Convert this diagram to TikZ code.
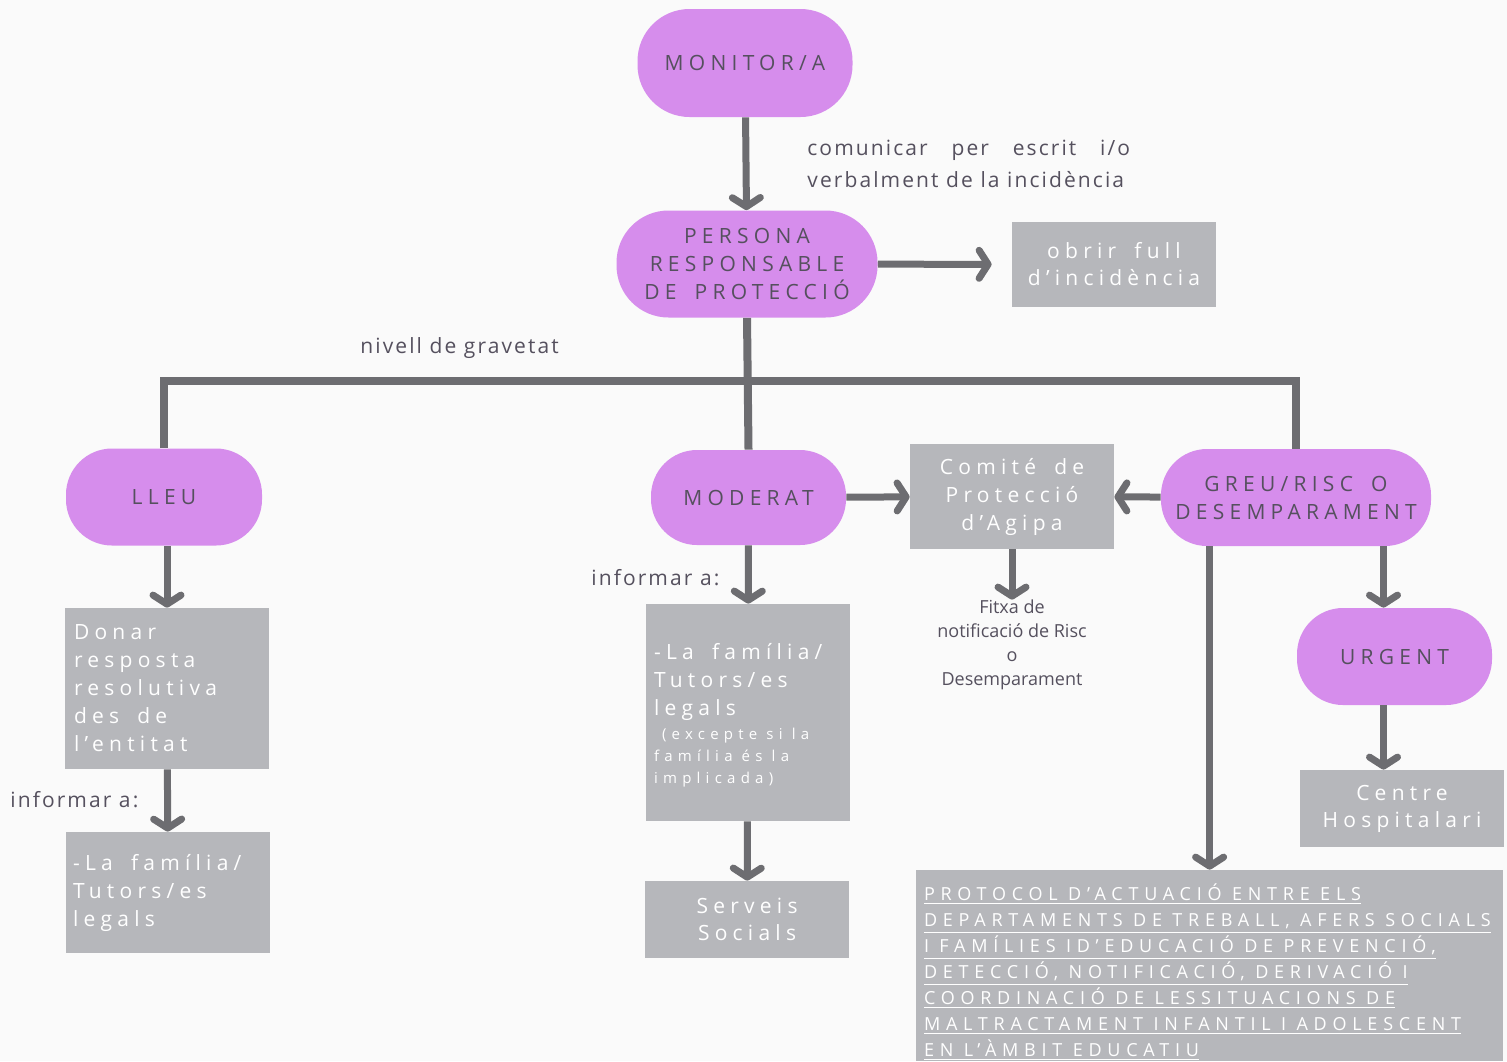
\documentclass[tikz,border=0pt]{standalone}
\usepackage{fontspec}
\setmainfont{Open Sans}
\newfontfamily\espaiat[LetterSpace=25,WordSpace=1.7]{Open Sans}
\newfontfamily\espaiatpetit[LetterSpace=35]{Open Sans}
\newfontfamily\espaiatprot[LetterSpace=32]{Open Sans}
\newfontfamily\espaiatnota[LetterSpace=10]{Open Sans}
\usetikzlibrary{arrows.meta}

\definecolor{lila}{HTML}{D68DEC}
\definecolor{caixagris}{HTML}{B6B7BB}
\definecolor{liniagris}{HTML}{6D6D71}
\definecolor{textfosc}{HTML}{55505E}
\definecolor{fons}{HTML}{FAFAFA}

\newsavebox{\liniabox}
\newcommand{\liniajusta}[2]{\global\setbox\liniabox\hbox{#2}\hbox to\dimexpr\wd\liniabox+3pt\relax{#1}\\\copy\liniabox}

\tikzset{
  pill/.style={fill=lila, text=textfosc, align=center, rounded corners=23pt,
    minimum width=98pt, minimum height=48.5pt,
    font=\espaiat\fontsize{10.5}{14}\selectfont},
  caixa/.style={fill=caixagris, text=white, align=center, minimum width=102pt,
    font=\espaiat\fontsize{10.5}{14}\selectfont},
  nota/.style={text=textfosc, inner sep=0pt, align=left,
    font=\espaiatnota\fontsize{10.5}{16}\selectfont},
  fletxa/.style={draw=liniagris, line width=3.5pt,
    -{Straight Barb[length=4.5pt,width=14pt,round]}},
  branca/.style={draw=liniagris, line width=4pt}
}

\begin{document}
\begin{tikzpicture}[x=0.5pt,y=-0.5pt]
  \useasboundingbox (0,0) rectangle (1507,1061);
  \fill[fons] (0,0) rectangle (1507,1061);

  % capcalera
  \node[pill, minimum width=107.5pt, minimum height=54pt, rounded corners=26pt] (monitor) at (745,63) {MONITOR/A};
  \node[pill, minimum width=130.5pt, minimum height=53.5pt, rounded corners=26pt] (persona) at (747,264) {PERSONA\\RESPONSABLE\\DE PROTECCIÓ};
  \node[caixa, minimum height=42.5pt, font=\espaiat\fontsize{10.5}{13.5}\selectfont] (obrir) at (1114,264.5) {obrir full\\d’incidència};
  \node[nota, anchor=west] (comunicar) at (807,164) {\liniajusta{comunicar\hfill per\hfill escrit\hfill i/o}{verbalment de la incidència}};
  \node[nota, anchor=west] (nivell) at (360,348) {nivell de gravetat};
  \coordinate (junta) at (748,381);

  % nivells
  \node[pill] (lleu) at (164,497) {LLEU};
  \node[pill, minimum width=97.5pt, minimum height=47.5pt] (moderat) at (748.5,497.5) {MODERAT};
  \node[caixa, minimum height=52.5pt] (comite) at (1012,496.5) {Comité de\\Protecció\\d’Agipa};
  \node[pill, minimum width=135pt] (greu) at (1296,497.5) {GREU/RISC O\\DESEMPARAMENT};
  \node[text=textfosc, inner sep=0pt, align=center, font=\fontsize{9}{12}\selectfont] (fitxa) at (1012,645) {Fitxa de\\notificació de Risc\\o\\Desemparament};

  % lleu
  \node[caixa, minimum height=80.5pt, text width=93pt, inner xsep=4.5pt, align=flush left] (donar) at (167,688.5) {Donar\\resposta\\resolutiva\\des de\\l’entitat};
  \node[nota, anchor=west] (informarA) at (10,800) {informar a:};
  \node[caixa, minimum height=60.5pt, text width=95pt, inner xsep=3.5pt, align=flush left] (familiaA) at (168,892.5) {-La família/\\Tutors/es\\legals};

  % moderat
  \node[nota, anchor=west] (informarB) at (591,578) {informar a:};
  \node[caixa, minimum height=108.5pt, text width=94pt, inner xsep=4pt, align=flush left] (familiaB) at (748,712.5) {-La família/\\Tutors/es\\legals\par
    \vspace{1pt}{\espaiatpetit\fontsize{7.5}{11}\selectfont\hspace{4pt}(excepte si la\\família és la\\implicada)\par}\vspace{-3pt}};
  \node[caixa, minimum height=38.5pt, font=\espaiat\fontsize{10.5}{13.5}\selectfont] (serveis) at (747,919.5) {Serveis\\Socials};

  % greu
  \node[pill, minimum width=97.5pt] (urgent) at (1394.5,656.5) {URGENT};
  \node[caixa, minimum height=38.5pt, font=\espaiat\fontsize{10.5}{13.5}\selectfont] (centre) at (1402,808.5) {Centre\\Hospitalari};
  \node[caixa, minimum height=95.5pt, text width=285.5pt, inner xsep=4pt, align=flush left,
    font=\espaiatprot\fontsize{9}{13}\selectfont] (protocol) at (1209.5,965.5)
    {\underline{PROTOCOL D’ACTUACIÓ ENTRE ELS}\\
     \underline{DEPARTAMENTS DE TREBALL, AFERS SOCIALS}\\
     \underline{I FAMÍLIES ID’EDUCACIÓ DE PREVENCIÓ,}\\
     \underline{DETECCIÓ, NOTIFICACIÓ, DERIVACIÓ I}\\
     \underline{COORDINACIÓ DE LESSITUACIONS DE}\\
     \underline{MALTRACTAMENT INFANTIL I ADOLESCENT}\\
     \underline{EN L’ÀMBIT EDUCATIU}\par\vspace{-7pt}};

  % connexions
  \draw[fletxa] (monitor) -- (persona);
  \draw[fletxa, shorten >=10pt] (persona) -- (obrir);
  \draw[branca] (persona.south) -- (moderat.north);
  \draw[branca] (lleu.north) |- (junta) -| (greu.north);
  \draw[fletxa] (moderat) -- (comite);
  \draw[fletxa] (greu) -- (comite);
  \draw[fletxa] (comite) -- (fitxa);
  \draw[fletxa] (donar.north |- lleu.south) -- (donar.north);
  \draw[fletxa] (donar) -- (familiaA);
  \draw[fletxa] (moderat) -- (familiaB);
  \draw[fletxa] (familiaB) -- (serveis);
  \draw[fletxa] ([xshift=-5.5pt]urgent.north |- greu.south) -- ([xshift=-5.5pt]urgent.north);
  \draw[fletxa] ([xshift=-5.5pt]urgent.south) -- ([xshift=-5.5pt]urgent.south |- centre.north);
  \draw[fletxa] ([xshift=24.5pt]greu.south west) -- ([xshift=24.5pt]greu.south west |- protocol.north);
\end{tikzpicture}
\end{document}
